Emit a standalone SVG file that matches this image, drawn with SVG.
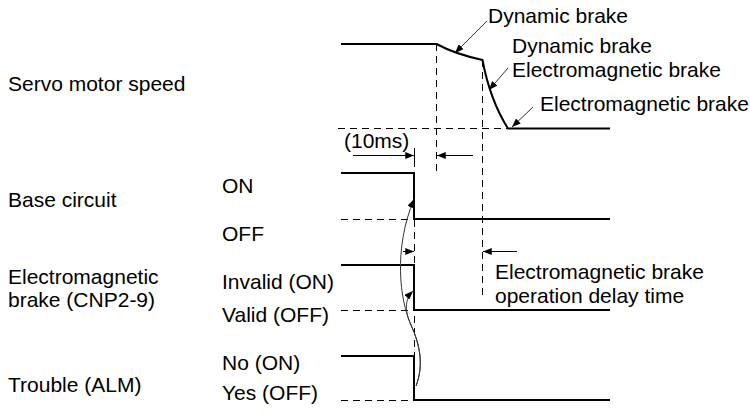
<svg xmlns="http://www.w3.org/2000/svg" width="750" height="419" viewBox="0 0 750 419">
<defs>
<marker id="ah" viewBox="0 0 10 8" refX="10" refY="4" markerWidth="9" markerHeight="7" markerUnits="userSpaceOnUse" orient="auto">
<path d="M0,0 L10,4 L0,8 z" fill="#000"/>
</marker>
</defs>
<style>
text{font-family:"Liberation Sans",Arial,sans-serif;font-size:21px;fill:#000}
.sig{fill:none;stroke:#000;stroke-width:2}
.dash{fill:none;stroke:#000;stroke-width:1;stroke-dasharray:7,5}
.dim{fill:none;stroke:#000;stroke-width:1}
.lead{fill:none;stroke:#333;stroke-width:1}
</style>
<rect width="750" height="419" fill="#fff"/>
<g id="row-labels">
<text x="8" y="91">Servo motor speed</text>
<text x="8" y="207">Base circuit</text>
<text x="8" y="284">Electromagnetic</text>
<text x="8" y="307">brake (CNP2-9)</text>
<text x="8" y="392">Trouble (ALM)</text>
<text x="222" y="193">ON</text>
<text x="222" y="241">OFF</text>
<text x="222" y="289">Invalid (ON)</text>
<text x="222" y="322">Valid (OFF)</text>
<text x="222" y="370">No (ON)</text>
<text x="222" y="400">Yes (OFF)</text>
</g>
<g id="speed">
<path class="sig" d="M341,44 L436.5,44 Q455,54 482.5,60 Q490,100 508,128.5 L610,128.5"/>
</g>
<g id="base-circuit">
<path class="sig" d="M341,173 L414,173 L414,219 L610,219"/>
</g>
<g id="brake">
<path class="sig" d="M341,265 L414,265 L414,310 L610,310"/>
</g>
<g id="trouble">
<path class="sig" d="M341,356 L414,356 L414,400 L610,400"/>
</g>
<g id="annotations">
<text x="488" y="23">Dynamic brake</text>
<text x="512" y="53">Dynamic brake</text>
<text x="512" y="77">Electromagnetic brake</text>
<text x="540" y="111">Electromagnetic brake</text>
<text x="344" y="148">(10ms)</text>
<text x="495" y="279">Electromagnetic brake</text>
<text x="495" y="303">operation delay time</text>
</g>
<g id="connectors">
<path class="dash" d="M338,128.5 L508,128.5"/>
<path class="dash" d="M341,219.5 L414,219.5"/>
<path class="dash" d="M341,310.5 L414,310.5"/>
<path class="dash" d="M341,400.5 L414,400.5"/>
<path class="dash" d="M436.5,44 L436.5,173"/>
<path class="dash" d="M482.5,60 L482.5,298"/>
<path class="dash" d="M414.5,160 L414.5,400"/>
<path class="dim" d="M414.5,148 L414.5,160"/>
<path class="dim" d="M353,155.5 L414,155.5" marker-end="url(#ah)"/>
<path class="dim" d="M473,155.5 L437,155.5" marker-end="url(#ah)"/>
<path class="dim" d="M403,251.5 L414,251.5" marker-end="url(#ah)"/>
<path class="dim" d="M517,251.5 L483,251.5" marker-end="url(#ah)"/>
<path class="lead" d="M487,21 L455,53" marker-end="url(#ah)"/>
<path class="lead" d="M508,68 L489,90" marker-end="url(#ah)"/>
<path class="lead" d="M533,107 L512,127" marker-end="url(#ah)"/>
<path class="lead" d="M416,386 C424,365 420,345 411,325 C400,300 393,250 414,199" marker-end="url(#ah)"/>
<path class="lead" d="M416,386 C424,365 420,345 411,325 C405,312 404,300 413,291" marker-end="url(#ah)"/>
</g>
</svg>
